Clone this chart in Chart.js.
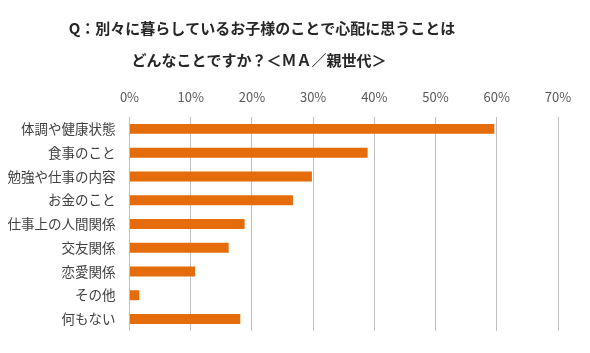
<!DOCTYPE html>
<html>
<head>
<meta charset="utf-8">
<script src="https://cdn.jsdelivr.net/npm/chart.js@4"></script>
<style>
  body { margin: 0; background: #ffffff; }
  #wrap { width: 590px; height: 353px; }
</style>
</head>
<body>
<div id="wrap"><canvas id="worryChart" width="590" height="353"></canvas></div>
<script>
// chart data
var titleLines = ['Q：別々に暮らしているお子様のことで心配に思うことは', 'どんなことですか？＜ＭＡ／親世代＞'];
var categories = ['体調や健康状態', '食事のこと', '勉強や仕事の内容', 'お金のこと', '仕事上の人間関係', '交友関係', '恋愛関係', 'その他', '何もない'];
var percents = [59.6, 38.9, 29.8, 26.7, 18.8, 16.2, 10.7, 1.6, 18.1];
var tickMax = 70;

var jpFont = '"Noto Sans CJK JP", "Noto Sans", sans-serif';

// title is drawn by hand so it can sit left of page centre like the original
var titlePlugin = {
  id: 'twoLineTitle',
  afterDraw: function(chart){
    var ctx = chart.ctx;
    ctx.save();
    ctx.fillStyle = '#262626';
    ctx.font = 'bold 15px ' + jpFont;
    ctx.textAlign = 'center';
    ctx.textBaseline = 'middle';
    ctx.fillText(titleLines[0], 262, 28);
    ctx.fillText(titleLines[1], 259, 60);
    ctx.restore();
  }
};

var worryChart = document.getElementById('worryChart').getContext('2d');
new Chart(worryChart, {
  type: 'bar',
  data: {
    labels: categories,
    datasets: [{
      data: percents,
      backgroundColor: '#E46C0A',
      borderWidth: 0,
      barPercentage: 0.42,
      categoryPercentage: 1.0
    }]
  },
  options: {
    indexAxis: 'y',
    responsive: false,
    animation: false,
    layout: {
      padding: {top: 0, left: 0, right: 32, bottom: 17}
    },
    plugins: {
      legend: {display: false},
      title: {display: false},
      tooltip: {enabled: false}
    },
    scales: {
      x: {
        position: 'top',
        min: 0,
        max: tickMax,
        ticks: {
          stepSize: 10,
          color: '#595959',
          font: {family: jpFont, size: 13},
          padding: 12,
          callback: function(v){ return v + '%'; }
        },
        grid: {color: '#BFBFBF', lineWidth: 1, drawTicks: false},
        border: {display: false},
        afterFit: function(scale){ scale.height = 117; }
      },
      y: {
        ticks: {
          color: '#404040',
          font: {family: jpFont, size: 13.5},
          padding: 14
        },
        grid: {display: false, drawTicks: false},
        border: {display: false},
        afterFit: function(scale){ scale.width = 129.5; }
      }
    }
  },
  plugins: [titlePlugin]
});
</script>
</body>
</html>
